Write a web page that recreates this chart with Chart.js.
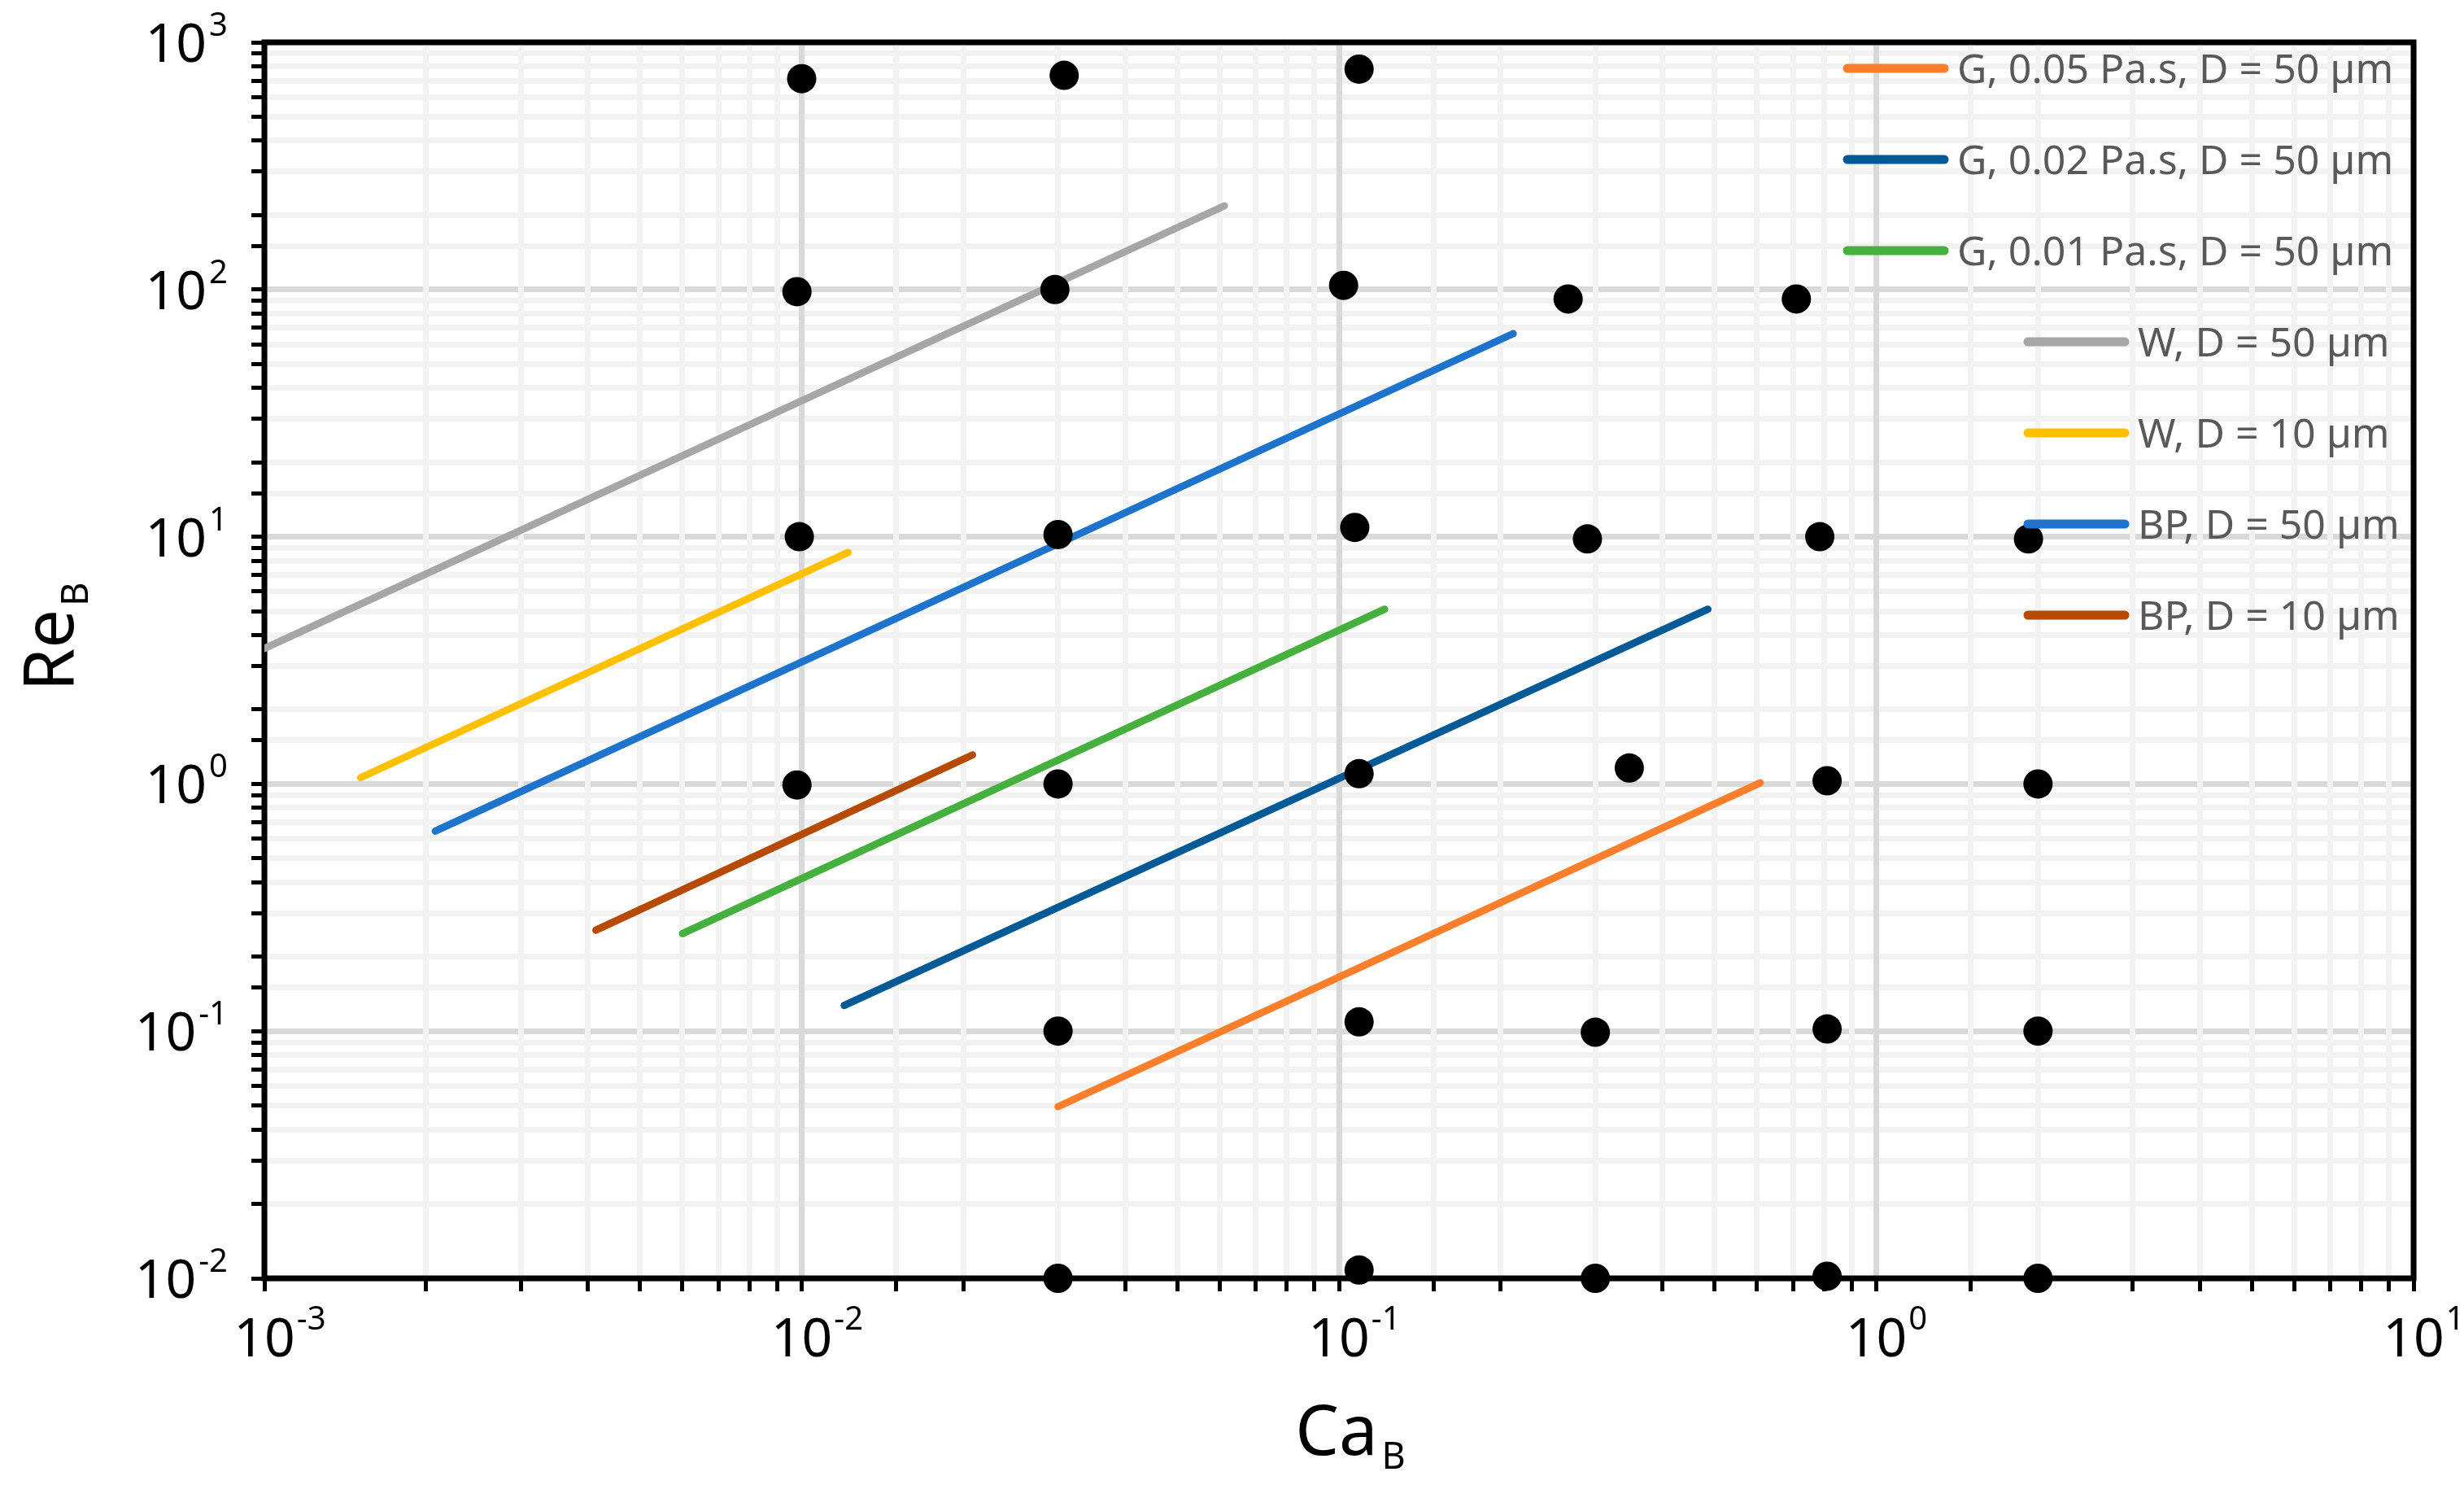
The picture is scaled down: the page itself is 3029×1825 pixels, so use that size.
<!DOCTYPE html>
<html>
<head>
<meta charset="utf-8">
<script src="https://cdn.jsdelivr.net/npm/chart.js@4/dist/chart.umd.min.js"></script>
<style>
  html, body { margin: 0; padding: 0; background: #fff; }
  #wrap { width: 3029px; height: 1825px; position: relative; }
</style>
</head>
<body>
<div id="wrap"><canvas id="c"></canvas></div>
<script>
// ---------- data ----------
const pointCa = [0.0100, 0.0308, 0.109, 0.0098, 0.0296, 0.102, 0.267, 0.71,
                 0.0099, 0.030, 0.107, 0.29, 0.785, 1.92,
                 0.0098, 0.030, 0.109, 0.347, 0.81, 2.0,
                 0.030, 0.109, 0.30, 0.81, 2.0,
                 0.030, 0.109, 0.30, 0.81, 2.0];
const pointRe = [713, 735, 779, 98, 100, 104, 91.6, 91.6,
                 10, 10.2, 10.9, 9.8, 10, 9.8,
                 0.99, 1.0, 1.10, 1.16, 1.03, 1.0,
                 0.100, 0.109, 0.099, 0.102, 0.100,
                 0.0100, 0.0108, 0.0100, 0.0102, 0.0100];

const seriesLabels = ['G, 0.05 Pa.s, D = 50 µm', 'G, 0.02 Pa.s, D = 50 µm', 'G, 0.01 Pa.s, D = 50 µm',
                      'W, D = 50 µm', 'W, D = 10 µm', 'BP, D = 50 µm', 'BP, D = 10 µm'];
const g005Ca = [0.030, 0.608];   const g005Re = [0.0495, 1.01];
const g002Ca = [0.0120, 0.486];  const g002Re = [0.127, 5.09];
const g001Ca = [0.0060, 0.1216]; const g001Re = [0.248, 5.09];
const w50Ca  = [0.0010, 0.0612]; const w50Re  = [3.53, 218];
const w10Ca  = [0.00151, 0.0122]; const w10Re = [1.06, 8.64];
const bp50Ca = [0.00208, 0.211]; const bp50Re = [0.644, 66.3];
const bp10Ca = [0.00414, 0.0208]; const bp10Re = [0.256, 1.31];

const xRange = [0.001, 10];
const yRange = [0.01, 1000];
const xTitle = 'Ca'; const xTitleSub = 'B';
const yTitle = 'Re'; const yTitleSub = 'B';

// ---------- styles ----------
const seriesColors = ['#FD7F2C', '#005A96', '#46B03E', '#A6A6A6', '#FFC000', '#1E74CC', '#B54A00'];
const FONT = '"Noto Sans", "DejaVu Sans", sans-serif';

const seriesCa = [g005Ca, g002Ca, g001Ca, w50Ca, w10Ca, bp50Ca, bp10Ca];
const seriesRe = [g005Re, g002Re, g001Re, w50Re, w10Re, bp50Re, bp10Re];

const datasets = [{
  label: 'data',
  data: pointCa.map((c, i) => ({ x: c, y: pointRe[i] })),
  backgroundColor: '#000',
  borderWidth: 0,
  pointRadius: 18,
  pointHoverRadius: 18,
  showLine: false,
  clip: false
}];
seriesLabels.forEach((lab, i) => {
  datasets.push({
    label: lab,
    data: seriesCa[i].map((c, j) => ({ x: c, y: seriesRe[i][j] })),
    borderColor: seriesColors[i],
    backgroundColor: seriesColors[i],
    borderWidth: 9,
    borderCapStyle: 'round',
    showLine: true,
    pointRadius: 0,
    pointHoverRadius: 0,
    fill: false
  });
});

function isDecade(v) {
  const e = Math.log10(v);
  return Math.abs(e - Math.round(e)) < 1e-6;
}

const decor = {
  id: 'decor',
  beforeDatasetsDraw(chart) {
    const { ctx, chartArea: a, scales: { x, y } } = chart;
    ctx.save();
    // frame
    ctx.strokeStyle = '#000';
    ctx.lineWidth = 7;
    ctx.strokeRect(a.left, a.top, a.right - a.left, a.bottom - a.top);

    ctx.fillStyle = '#000';
    ctx.textBaseline = 'alphabetic';
    ctx.textAlign = 'left';
    // x tick labels
    x.ticks.forEach(t => {
      if (!isDecade(t.value)) return;
      const e = Math.round(Math.log10(t.value));
      const px = x.getPixelForValue(t.value);
      ctx.font = '66px ' + FONT;
      const w = ctx.measureText('10').width;
      ctx.fillText('10', px - w / 2, a.bottom + 96);
      ctx.font = '40px ' + FONT;
      ctx.fillText(String(e), px + w / 2 + 2, a.bottom + 63);
    });
    // y tick labels
    const rightEdge = a.left - 45;
    y.ticks.forEach(t => {
      if (!isDecade(t.value)) return;
      const e = Math.round(Math.log10(t.value));
      const py = y.getPixelForValue(t.value);
      ctx.font = '40px ' + FONT;
      const ew = ctx.measureText(String(e)).width;
      ctx.fillText(String(e), rightEdge - ew, py - 8);
      ctx.font = '66px ' + FONT;
      const w = ctx.measureText('10').width;
      ctx.fillText('10', rightEdge - ew - 3 - w, py + 24);
    });

    // x title
    ctx.font = '85px ' + FONT;
    const cw = ctx.measureText(xTitle).width;
    ctx.font = '45px ' + FONT;
    const bw = ctx.measureText(xTitleSub).width;
    const cx = (a.left + a.right) / 2 + 14;
    const x0 = cx - (cw + 5 + bw) / 2;
    ctx.font = '85px ' + FONT;
    ctx.fillText(xTitle, x0, a.bottom + 217);
    ctx.font = '45px ' + FONT;
    ctx.fillText(xTitleSub, x0 + cw + 5, a.bottom + 234);

    // y title (rotated)
    ctx.font = '85px ' + FONT;
    const rw = ctx.measureText(yTitle).width;
    ctx.font = '45px ' + FONT;
    const rbw = ctx.measureText(yTitleSub).width;
    const cy = (a.top + a.bottom) / 2 - 29;
    ctx.translate(90, cy);
    ctx.rotate(-Math.PI / 2);
    const u0 = -(rw + 4 + rbw) / 2;
    ctx.font = '85px ' + FONT;
    ctx.fillText(yTitle, u0, 0);
    ctx.font = '45px ' + FONT;
    ctx.fillText(yTitleSub, u0 + rw + 4, 18);
    ctx.restore();
  },
  afterDatasetsDraw(chart) {
    const { ctx, chartArea: a } = chart;
    ctx.save();
    ctx.font = '50px ' + FONT;
    ctx.textBaseline = 'alphabetic';
    ctx.textAlign = 'left';
    seriesLabels.forEach((lab, i) => {
      const yy = a.top + 32 + i * 112;
      const textX = i < 3 ? a.right - 561 : a.right - 339;
      const sx = textX - 141;
      ctx.strokeStyle = seriesColors[i];
      ctx.lineWidth = 11;
      ctx.lineCap = 'round';
      ctx.beginPath();
      ctx.moveTo(sx + 6, yy);
      ctx.lineTo(sx + 125, yy);
      ctx.stroke();
      ctx.fillStyle = '#595959';
      ctx.fillText(lab, textX, yy + 18);
    });
    ctx.restore();
  }
};

const gridColor = c => (c.tick && isDecade(c.tick.value)) ? '#d9d9d9' : '#f2f2f2';

new Chart(document.getElementById('c'), {
  type: 'scatter',
  data: { datasets },
  options: {
    responsive: true,
    maintainAspectRatio: false,
    devicePixelRatio: 1,
    animation: false,
    events: [],
    layout: { padding: { left: 0, right: 62, top: 52, bottom: 0 } },
    plugins: { legend: { display: false }, tooltip: { enabled: false } },
    scales: {
      x: {
        type: 'logarithmic',
        min: xRange[0], max: xRange[1],
        border: { display: false },
        grid: { z: -1, color: gridColor, lineWidth: 7, drawTicks: true, tickLength: 16, tickWidth: 5, tickColor: '#000' },
        ticks: { display: false },
        afterFit: s => { s.height = 254; }
      },
      y: {
        type: 'logarithmic',
        min: yRange[0], max: yRange[1],
        border: { display: false },
        grid: { z: -2, color: gridColor, lineWidth: 7, drawTicks: true, tickLength: 16, tickWidth: 5, tickColor: '#000' },
        ticks: { display: false },
        afterFit: s => { s.width = 325; }
      }
    }
  },
  plugins: [decor]
});
</script>
</body>
</html>
